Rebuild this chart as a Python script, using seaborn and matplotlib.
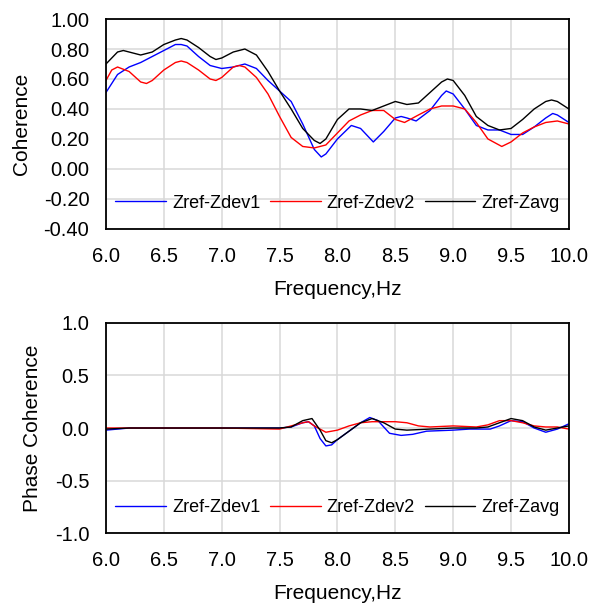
import matplotlib
matplotlib.use("Agg")
import matplotlib.pyplot as plt
import pandas as pd
import seaborn as sns

# --- coherence (top panel) ---
f_dev1 = [6.0, 6.1, 6.2, 6.3, 6.4, 6.5, 6.6, 6.65, 6.7, 6.8, 6.9, 7.0, 7.1, 7.2, 7.3, 7.4, 7.5, 7.6,
          7.7, 7.8, 7.86, 7.9, 8.0, 8.12, 8.2, 8.31, 8.4, 8.5, 8.55, 8.6, 8.68, 8.8, 8.9, 8.94, 9.0,
          9.1, 9.2, 9.3, 9.4, 9.5, 9.6, 9.7, 9.8, 9.86, 9.9, 10.0]
coh_dev1 = [0.51, 0.63, 0.68, 0.71, 0.75, 0.79, 0.83, 0.83, 0.82, 0.75, 0.69, 0.67, 0.68, 0.70, 0.67,
            0.59, 0.52, 0.45, 0.30, 0.13, 0.08, 0.10, 0.20, 0.29, 0.27, 0.18, 0.25, 0.34, 0.35, 0.34,
            0.32, 0.39, 0.49, 0.52, 0.50, 0.40, 0.29, 0.26, 0.26, 0.23, 0.23, 0.28, 0.34, 0.37, 0.36,
            0.31]

f_dev2 = [6.0, 6.05, 6.1, 6.2, 6.3, 6.35, 6.4, 6.5, 6.6, 6.65, 6.7, 6.8, 6.9, 6.95, 7.0, 7.1, 7.15,
          7.2, 7.3, 7.4, 7.5, 7.6, 7.7, 7.8, 7.9, 8.0, 8.1, 8.2, 8.3, 8.4, 8.5, 8.58, 8.7, 8.8, 8.9,
          9.0, 9.1, 9.2, 9.3, 9.42, 9.5, 9.6, 9.7, 9.8, 9.9, 10.0]
coh_dev2 = [0.59, 0.66, 0.68, 0.65, 0.58, 0.57, 0.59, 0.66, 0.71, 0.72, 0.71, 0.66, 0.60, 0.59, 0.61,
            0.68, 0.69, 0.68, 0.61, 0.50, 0.35, 0.21, 0.15, 0.14, 0.16, 0.24, 0.32, 0.36, 0.39, 0.39,
            0.33, 0.31, 0.36, 0.40, 0.42, 0.42, 0.40, 0.31, 0.20, 0.15, 0.18, 0.24, 0.28, 0.31, 0.32,
            0.30]

f_avg = [6.0, 6.1, 6.15, 6.2, 6.3, 6.4, 6.5, 6.6, 6.65, 6.7, 6.8, 6.9, 6.95, 7.0, 7.1, 7.2, 7.3, 7.4,
         7.5, 7.6, 7.7, 7.8, 7.85, 7.9, 8.0, 8.1, 8.2, 8.3, 8.4, 8.5, 8.6, 8.7, 8.8, 8.9, 8.95, 9.0,
         9.1, 9.2, 9.3, 9.4, 9.5, 9.6, 9.7, 9.8, 9.85, 9.9, 10.0]
coh_avg = [0.70, 0.78, 0.79, 0.78, 0.76, 0.78, 0.83, 0.86, 0.87, 0.86, 0.81, 0.75, 0.73, 0.74, 0.78,
           0.80, 0.76, 0.65, 0.52, 0.40, 0.27, 0.19, 0.17, 0.20, 0.33, 0.40, 0.40, 0.39, 0.42, 0.45,
           0.43, 0.44, 0.51, 0.58, 0.60, 0.59, 0.49, 0.35, 0.29, 0.26, 0.27, 0.33, 0.40, 0.45, 0.46,
           0.45, 0.40]

# --- phase coherence (bottom panel) ---
fp_dev1 = [6.0, 6.2, 6.5, 7.0, 7.5, 7.6, 7.7, 7.75, 7.8, 7.85, 7.9, 7.95, 8.0, 8.1, 8.2, 8.28, 8.35,
           8.45, 8.55, 8.65, 8.77, 9.0, 9.14, 9.32, 9.4, 9.5, 9.6, 9.7, 9.8, 9.9, 10.0]
ph_dev1 = [-0.02, 0.0, 0.0, 0.0, 0.0, 0.01, 0.05, 0.06, 0.02, -0.10, -0.17, -0.16, -0.11, -0.03,
           0.05, 0.10, 0.07, -0.05, -0.07, -0.06, -0.03, -0.02, -0.01, -0.01, 0.02, 0.07, 0.06,
           0.0, -0.04, -0.01, 0.04]

fp_dev2 = [6.0, 6.2, 6.5, 7.0, 7.5, 7.6, 7.7, 7.75, 7.8, 7.9, 8.0, 8.1, 8.2, 8.3, 8.4, 8.5, 8.6, 8.7,
           8.8, 9.0, 9.2, 9.3, 9.4, 9.5, 9.6, 9.7, 9.8, 9.9, 10.0]
ph_dev2 = [0.0, 0.0, 0.0, 0.0, -0.01, 0.02, 0.05, 0.06, 0.02, -0.04, -0.02, 0.02, 0.05, 0.06, 0.06,
           0.06, 0.05, 0.02, 0.01, 0.02, 0.01, 0.03, 0.07, 0.07, 0.05, 0.02, 0.01, 0.01, -0.01]

fp_avg = [6.0, 6.2, 6.5, 7.0, 7.5, 7.6, 7.7, 7.78, 7.85, 7.9, 7.95, 8.0, 8.1, 8.2, 8.3, 8.4, 8.5,
          8.6, 8.8, 9.0, 9.2, 9.3, 9.4, 9.5, 9.6, 9.7, 9.8, 9.9, 10.0]
ph_avg = [-0.01, 0.0, 0.0, 0.0, 0.0, 0.01, 0.07, 0.09, -0.02, -0.12, -0.14, -0.11, -0.03, 0.05, 0.09,
          0.05, -0.01, -0.02, -0.01, 0.0, 0.0, 0.01, 0.05, 0.09, 0.07, 0.01, -0.02, 0.0, 0.02]

labels = ["Zref-Zdev1", "Zref-Zdev2", "Zref-Zavg"]
colors = ["#0000FF", "#FF0000", "#000000"]
x_ticks = [6.0, 6.5, 7.0, 7.5, 8.0, 8.5, 9.0, 9.5, 10.0]


def long_frame(pairs):
    rows = []
    for name, (fx, vals) in zip(labels, pairs):
        for a, b in zip(fx, vals):
            rows.append({"freq": a, "value": b, "series": name})
    return pd.DataFrame(rows)


top_df = long_frame([(f_dev1, coh_dev1), (f_dev2, coh_dev2), (f_avg, coh_avg)])
bot_df = long_frame([(fp_dev1, ph_dev1), (fp_dev2, ph_dev2), (fp_avg, ph_avg)])

sns.set_theme(style="whitegrid")
plt.rcParams["font.family"] = ["Liberation Sans", "DejaVu Sans"]

fig = plt.figure(figsize=(5.92, 6.04), dpi=100)
ax1 = fig.add_axes([0.179, 0.621, 0.782, 0.3475])
ax2 = fig.add_axes([0.179, 0.117, 0.782, 0.3487])


def style_axis(ax, ylab, ylim, yticks, fmt):
    ax.set_xlim(6.0, 10.0)
    ax.set_ylim(*ylim)
    ax.set_xticks(x_ticks)
    ax.set_xticklabels([f"{t:.1f}" for t in x_ticks])
    ax.set_yticks(yticks)
    ax.set_yticklabels([fmt.format(t) for t in yticks])
    ax.grid(True, color="#d9d9d9", linewidth=1.1)
    ax.set_axisbelow(True)
    for s in ax.spines.values():
        s.set_color("black")
        s.set_linewidth(1.3)
    ax.tick_params(axis="both", length=0, labelsize=14.5, colors="black", pad=12)
    ax.tick_params(axis="x", pad=13)
    ax.set_xlabel("Frequency,Hz", fontsize=15, color="black", labelpad=10)
    ax.set_ylabel(ylab, fontsize=15, color="black", labelpad=9)
    leg = ax.legend(loc="lower center", ncol=3, frameon=False, fontsize=13,
                    handlelength=2.8, handletextpad=0.33, columnspacing=0.55,
                    bbox_to_anchor=(0.5, 0.03), borderaxespad=0.2)
    for t in leg.get_texts():
        t.set_color("black")


sns.lineplot(data=top_df, x="freq", y="value", hue="series", hue_order=labels,
             palette=colors, linewidth=1.0, ax=ax1, sort=False)
style_axis(ax1, "Coherence", (-0.4, 1.0),
           [-0.4, -0.2, 0.0, 0.2, 0.4, 0.6, 0.8, 1.0], "{:.2f}")

sns.lineplot(data=bot_df, x="freq", y="value", hue="series", hue_order=labels,
             palette=colors, linewidth=1.0, ax=ax2, sort=False)
style_axis(ax2, "Phase Coherence", (-1.0, 1.0),
           [-1.0, -0.5, 0.0, 0.5, 1.0], "{:.1f}")

fig.savefig("out.png", dpi=100)
